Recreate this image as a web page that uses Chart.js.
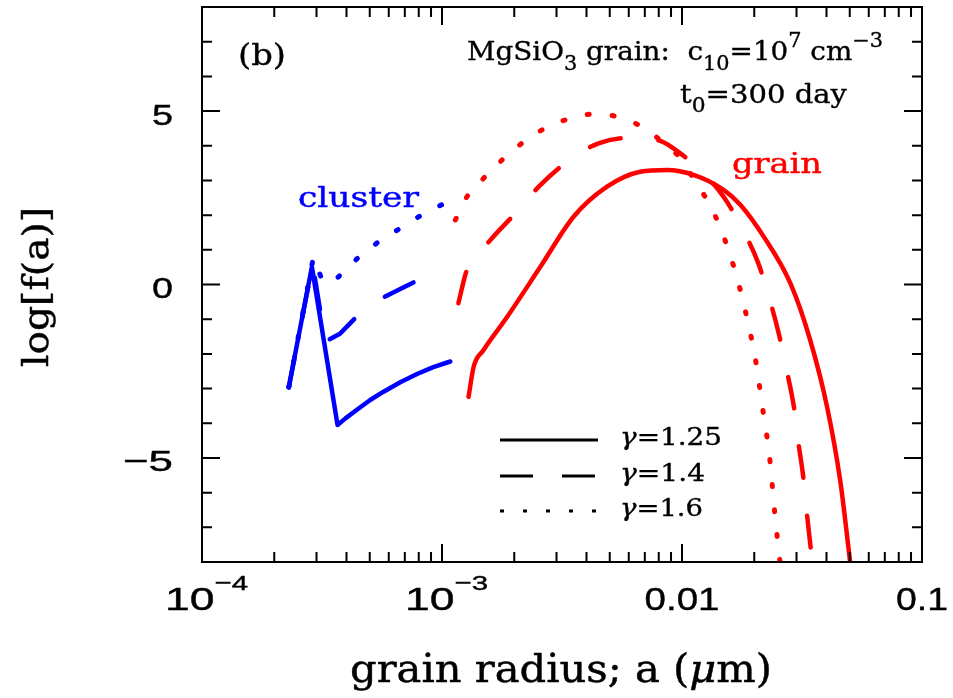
<!DOCTYPE html>
<html><head><meta charset="utf-8">
<script src="https://cdn.jsdelivr.net/npm/chart.js@4.4.1/dist/chart.umd.min.js"></script>
<style>html,body{margin:0;padding:0;background:#fff;overflow:hidden}canvas{display:block}</style>
</head><body>
<canvas id="c" width="953" height="698"></canvas>
<script>
// ---------------- data (a in micron, value = log f(a)) ----------------
const clusterSolidA  = [2.30e-4, 2.87e-4, 3.67e-4, 3.96e-4, 4.42e-4, 5.02e-4, 5.71e-4, 6.70e-4, 7.87e-4, 9.20e-4, 1.083e-3];
const clusterSolidF  = [-2.96, 0.51, -4.05, -3.86, -3.61, -3.33, -3.09, -2.82, -2.58, -2.38, -2.22];
const clusterDashA   = [2.30e-4, 2.89e-4, 3.26e-4, 3.77e-4, 4.35e-4, 5.71e-4, 6.70e-4, 7.87e-4];
const clusterDashF   = [-2.96, 0.60, -1.65, -1.41, -0.97, -0.37, -0.13, 0.11];
const clusterDotA    = [2.30e-4, 2.91e-4, 3.20e-4, 3.69e-4, 4.40e-4, 5.34e-4, 6.58e-4, 8.12e-4, 1.01e-3];
const clusterDotF    = [-2.96, 0.78, 0.05, 0.21, 0.73, 1.19, 1.59, 1.98, 2.32];

const grainSolidA = [1.29e-3, 1.355e-3, 1.49e-3, 1.87e-3, 2.57e-3, 3.54e-3, 4.87e-3, 6.70e-3, 8.66e-3, 1.117e-2, 1.49e-2, 1.75e-2, 2.19e-2, 2.83e-2, 3.42e-2, 4.02e-2, 4.56e-2, 5.02e-2];
const grainSolidF = [-3.24, -2.37, -1.89, -0.93, 0.51, 1.96, 2.82, 3.25, 3.30, 3.16, 2.73, 2.30, 1.38, 0.03, -1.60, -3.52, -5.64, -8.0];
const grainDashA  = [1.17e-3, 1.27e-3, 1.59e-3, 2.02e-3, 2.53e-3, 3.32e-3, 4.49e-3, 6.28e-3, 8.26e-3, 9.84e-3, 1.19e-2, 1.49e-2, 1.78e-2, 2.08e-2, 2.30e-2, 2.53e-2, 2.72e-2, 2.94e-2, 3.05e-2, 3.20e-2, 3.32e-2, 3.49e-2];
const grainDashF  = [-0.54, 0.42, 1.28, 2.05, 2.82, 3.54, 4.07, 4.23, 4.12, 3.78, 3.30, 2.53, 1.62, 0.61, -0.35, -1.41, -2.42, -3.62, -4.53, -5.54, -6.65, -8.0];
const grainDotA   = [1.136e-3, 1.27e-3, 1.49e-3, 1.78e-3, 2.15e-3, 2.65e-3, 3.32e-3, 4.22e-3, 5.36e-3, 6.70e-3, 8.26e-3, 9.84e-3, 1.135e-2, 1.29e-2, 1.435e-2, 1.56e-2, 1.68e-2, 1.79e-2, 1.89e-2, 1.99e-2, 2.07e-2, 2.14e-2, 2.22e-2, 2.30e-2, 2.36e-2, 2.41e-2, 2.47e-2, 2.53e-2, 2.56e-2];
const grainDotF   = [1.86, 2.53, 3.06, 3.59, 4.07, 4.48, 4.76, 4.91, 4.84, 4.57, 4.12, 3.64, 2.97, 2.36, 1.69, 1.00, 0.29, -0.43, -1.15, -1.87, -2.59, -3.31, -4.05, -4.77, -5.54, -6.26, -6.99, -7.71, -8.0];

// ---------------- axes / ticks / labels ----------------
const xMajorTicks = [1e-4, 1e-3, 1e-2, 1e-1];
const xTickLabels = [[['10',''],['\u22124','sup']], [['10',''],['\u22123','sup']], [['0.01','']], [['0.1','']]];
const yMajorTicks = [-5, 0, 5];
const yTickLabels = ['\u22125', '0', '5'];
const yMinorTicks = [-7,-6,-4,-3,-2,-1,1,2,3,4,6,7];
const xTitle = [['grain radius; a (',''],['\u03bc','it'],['m)','']];
const yTitle = 'log[f(a)]';
const panelLabel = '(b)';
const clusterLabel = 'cluster';
const grainLabel = 'grain';
const infoLine1 = [['MgSiO',''],['3','sub'],[' grain:  c',''],['10','sub'],['=10',''],['7','sup'],[' cm',''],['\u22123','sup']];
const infoLine2 = [['t',''],['0','sub'],['=300 day','']];
const legendLabels = ['1.25', '1.4', '1.6'];

const BLUE = '#0000ff', RED = '#ff0000';
const SERIF = '"DejaVu Serif", serif';
const SANS = '"Liberation Sans", Arial, sans-serif';

function pts(a, f) { return a.map((x, i) => ({x: x, y: f[i]})); }

const DASH = [32, 38], DOT = [2, 23];
const datasets = [
  {data: pts(clusterSolidA, clusterSolidF), borderColor: BLUE, borderWidth: 4.5, borderDash: [], tension: 0},
  {data: pts(clusterDashA, clusterDashF), borderColor: BLUE, borderWidth: 4.5, borderDash: DASH, tension: 0},
  {data: pts(clusterDotA, clusterDotF), borderColor: BLUE, borderWidth: 5, borderDash: DOT, tension: 0},
  {data: pts(grainSolidA, grainSolidF), borderColor: RED, borderWidth: 4.5, borderDash: [], cubicInterpolationMode: 'monotone'},
  {data: pts(grainDashA, grainDashF), borderColor: RED, borderWidth: 4.5, borderDash: DASH, cubicInterpolationMode: 'monotone'},
  {data: pts(grainDotA, grainDotF), borderColor: RED, borderWidth: 5, borderDash: DOT, cubicInterpolationMode: 'monotone'}
];

function drawRich(ctx, parts, x, y, size, family, width, color, align, opt) {
  opt = Object.assign({ss: 0.72, sub: 0.36, sup: -0.48, stroke: 0.35}, opt || {});
  ctx.save();
  ctx.fillStyle = color;
  ctx.strokeStyle = color;
  ctx.textAlign = 'left';
  ctx.textBaseline = 'alphabetic';
  ctx.setLineDash([]);
  const fonts = parts.map(([t, m]) => (m === 'it' ? 'italic ' : '') + ((m === 'sub' || m === 'sup') ? size * opt.ss : size) + 'px ' + family);
  let total = 0; const ws = [];
  parts.forEach(([t, m], i) => { ctx.font = fonts[i]; const w = ctx.measureText(t).width; ws.push(w); total += w; });
  const s = width ? width / total : 1;
  const x0 = align === 'center' ? x - total * s / 2 : align === 'right' ? x - total * s : x;
  ctx.translate(x0, y);
  ctx.scale(s, 1);
  ctx.lineWidth = opt.stroke;
  ctx.lineJoin = 'round';
  let cx = 0;
  parts.forEach(([t, m], i) => {
    ctx.font = fonts[i];
    const dy = m === 'sub' ? size * opt.sub : m === 'sup' ? size * opt.sup : 0;
    ctx.fillText(t, cx, dy);
    if (opt.stroke > 0) ctx.strokeText(t, cx, dy);
    cx += ws[i];
  });
  ctx.restore();
}

const decorPlugin = {
  id: 'decor',
  afterDatasetsDraw(chart) {
    const {ctx, chartArea: ca, scales: {x, y}} = chart;
    ctx.save();
    ctx.strokeStyle = '#000';
    ctx.lineWidth = 2;
    ctx.lineCap = 'butt';
    ctx.setLineDash([]);
    ctx.strokeRect(ca.left, ca.top, ca.right - ca.left, ca.bottom - ca.top);
    const MAJ = 18, MIN = 10;
    ctx.beginPath();
    for (let d = 0; d < 3; d++) {
      const base = xMajorTicks[d];
      for (let m = 2; m <= 9; m++) {
        const px = x.getPixelForValue(m * base);
        ctx.moveTo(px, ca.bottom); ctx.lineTo(px, ca.bottom - MIN);
        ctx.moveTo(px, ca.top); ctx.lineTo(px, ca.top + MIN);
      }
    }
    xMajorTicks.forEach(v => {
      const px = x.getPixelForValue(v);
      ctx.moveTo(px, ca.bottom); ctx.lineTo(px, ca.bottom - MAJ);
      ctx.moveTo(px, ca.top); ctx.lineTo(px, ca.top + MAJ);
    });
    yMinorTicks.forEach(v => {
      const py = y.getPixelForValue(v);
      ctx.moveTo(ca.left, py); ctx.lineTo(ca.left + MIN, py);
      ctx.moveTo(ca.right, py); ctx.lineTo(ca.right - MIN, py);
    });
    yMajorTicks.forEach(v => {
      const py = y.getPixelForValue(v);
      ctx.moveTo(ca.left, py); ctx.lineTo(ca.left + MAJ, py);
      ctx.moveTo(ca.right, py); ctx.lineTo(ca.right - MAJ, py);
    });
    ctx.stroke();

    // tick labels
    yMajorTicks.forEach((v, i) => {
      const py = y.getPixelForValue(v);
      const w = yTickLabels[i].length > 1 ? 50 : 21;
      drawRich(ctx, [[yTickLabels[i], '']], ca.left - 29, py + 13.5, 30, SANS, w, '#000', 'right', {stroke: 0.4});
    });
    const xW = [83, 83, 75, 52];
    xMajorTicks.forEach((v, i) => {
      const px = x.getPixelForValue(v);
      const single = xTickLabels[i].length === 1;
      const left = single ? px - xW[i] / 2 : px - 37;
      drawRich(ctx, xTickLabels[i], left, 610, 32, SANS, xW[i], '#000', 'left', {ss: 0.66, sup: -0.62, stroke: 0.4});
    });

    // axis titles
    drawRich(ctx, xTitle, 350, 682, 40, SERIF, 422, '#000', 'left', {stroke: 0.5});
    ctx.save();
    ctx.translate(48, 367);
    ctx.rotate(-Math.PI / 2);
    drawRich(ctx, [[yTitle, '']], 0, 0, 36, SERIF, 160, '#000', 'left', {stroke: 0.5});
    ctx.restore();

    // annotations
    drawRich(ctx, [[panelLabel, '']], 238, 65, 29, SERIF, 48, '#000', 'left');
    drawRich(ctx, [[clusterLabel, '']], 298, 207, 27, SERIF, 121, BLUE, 'left', {stroke: 0.45});
    drawRich(ctx, [[grainLabel, '']], 732, 173, 27, SERIF, 90, RED, 'left', {stroke: 0.45});
    drawRich(ctx, infoLine1, 467, 60, 26, SERIF, 416, '#000', 'left', {ss: 0.75, sub: 0.38, sup: -0.5});
    drawRich(ctx, infoLine2, 680, 103, 26, SERIF, 167, '#000', 'left', {ss: 0.75, sub: 0.33, sup: -0.5});

    // legend
    const ly = [440, 476, 511];
    const dashes = [[], [33, 29], [4, 19]];
    const lw = [102, 85, 83];
    ly.forEach((yy, i) => {
      ctx.strokeStyle = '#000';
      ctx.lineWidth = 3;
      ctx.lineCap = 'butt';
      ctx.setLineDash(dashes[i]);
      ctx.beginPath();
      ctx.moveTo(500, yy); ctx.lineTo(i === 0 ? 598 : 597, yy);
      ctx.stroke();
      ctx.setLineDash([]);
      drawRich(ctx, [['\u03b3', 'it'], ['=' + legendLabels[i], '']], 620, yy + 5, 25, SERIF, lw[i], '#000', 'left');
    });
    ctx.restore();
  }
};

new Chart(document.getElementById('c'), {
  type: 'line',
  data: {datasets: datasets},
  options: {
    responsive: false,
    animation: false,
    devicePixelRatio: 1,
    layout: {padding: {left: 202, right: 31, top: 7, bottom: 136}},
    plugins: {legend: {display: false}, tooltip: {enabled: false}},
    elements: {point: {radius: 0}, line: {borderCapStyle: 'round', borderJoinStyle: 'round', fill: false}},
    scales: {
      x: {type: 'logarithmic', min: 1e-4, max: 0.1, display: false},
      y: {type: 'linear', min: -8, max: 8, display: false}
    }
  },
  plugins: [decorPlugin]
});
</script>
</body></html>
